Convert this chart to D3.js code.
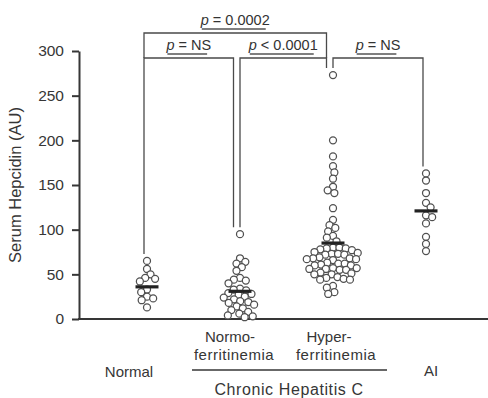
<!DOCTYPE html>
<html>
<head>
<meta charset="utf-8">
<script src="https://cdn.jsdelivr.net/npm/d3@7"></script>
<style>
  html, body { margin: 0; padding: 0; background: #fff; }
  svg { display: block; font-family: "Liberation Sans", Arial, Helvetica, sans-serif; }
</style>
</head>
<body>
<svg id="chart" width="488" height="398"></svg>
<script>
// Serum hepcidin by patient group
const groups = ["Normal", "Normo", "Hyper", "AI"];

const normalValues = [65, 56, 50, 46, 45, 42, 33, 30, 25, 23, 21, 13];
const normoValues = [95, 68, 64, 62, 58, 54, 46, 44, 43, 40, 34, 33, 32, 29, 28, 27, 25, 24,
  22, 20, 19, 18, 16, 14, 12, 10, 8, 6, 4, 3, 2];
const hyperValues = [273, 200, 182, 171, 164, 157, 148, 144, 141, 124, 111, 105, 102, 98, 93, 91, 87,
  80, 80, 79, 79, 78, 77,
  75, 74, 73, 73, 72, 72,
  69, 68, 68, 67, 67, 66,
  63, 62, 62, 61, 60, 60,
  57, 57, 56, 56, 55, 55,
  52, 51, 50, 50,
  47, 46, 45, 44, 44,
  37, 35,
  30, 28];
const aiValues = [163, 155, 141, 130, 125, 116, 114, 107, 92, 84, 76];

// horizontal summary bar for each group
const summaryValues = [36, 31, 85, 121];

const yTicks = [0, 50, 100, 150, 200, 250, 300];

// pairwise comparisons: group index from / to and the p-value text
const compareFrom = [0, 0, 1, 2];
const compareTo = [2, 1, 2, 3];
const compareText = [" = 0.0002", " = NS", " < 0.0001", " = NS"];

const svg = d3.select("#chart");
const ink = "#363636";

const y = d3.scaleLinear().domain([0, 300]).range([319, 51]);
const x = d3.scalePoint().domain(groups).range([147, 426]);

// y axis
const yAxis = svg.append("g")
  .attr("transform", "translate(79,0)")
  .call(d3.axisLeft(y).tickValues(yTicks).tickSize(7).tickPadding(8).tickSizeOuter(0));
yAxis.select(".domain").attr("stroke", ink).attr("stroke-width", 2);
yAxis.selectAll(".tick line").attr("stroke", ink).attr("stroke-width", 2);
yAxis.selectAll(".tick text").attr("fill", ink).attr("font-size", 15.5)
  .attr("font-family", "Liberation Sans, Arial, sans-serif");

// x baseline
svg.append("line")
  .attr("x1", 78).attr("x2", 488)
  .attr("y1", y(0)).attr("y2", y(0))
  .attr("stroke", ink).attr("stroke-width", 2);

svg.append("text")
  .attr("transform", `translate(21,${185}) rotate(-90)`)
  .attr("text-anchor", "middle")
  .attr("font-size", 16.5)
  .attr("fill", ink)
  .text("Serum Hepcidin (AU)");

// beeswarm placement: each dot takes the x offset closest to the centre that avoids overlap
const r = 3.5;
const gap = 6.4;
function swarm(values) {
  const placed = [];
  const sorted = values.slice().sort((a, b) => b - a);
  sorted.forEach((v, i) => {
    const py = y(v);
    const near = placed.filter(p => Math.abs(p.y - py) < gap);
    const cands = [0];
    near.forEach(p => {
      const dx = Math.sqrt(gap * gap - (p.y - py) * (p.y - py));
      cands.push(p.dx + dx + 0.01, p.dx - dx - 0.01);
    });
    const ok = cands.filter(c => near.every(p => Math.hypot(p.dx - c, p.y - py) >= gap - 0.02));
    ok.sort((a, b) => Math.abs(a) - Math.abs(b) || (i % 2 ? a - b : b - a));
    placed.push({ v, y: py, dx: ok[0] });
  });
  return placed;
}

const allValues = [normalValues, normoValues, hyperValues, aiValues];

allValues.forEach((vals, gi) => {
  const cx = x(groups[gi]);
  const dots = swarm(vals);
  svg.append("g").selectAll("circle")
    .data(dots)
    .join("circle")
    .attr("cx", d => cx + d.dx)
    .attr("cy", d => d.y)
    .attr("r", r)
    .attr("fill", "#fff")
    .attr("stroke", "#505050")
    .attr("stroke-width", 1.25);
  svg.append("line")
    .attr("x1", cx - 11.5).attr("x2", cx + 11.5)
    .attr("y1", y(summaryValues[gi])).attr("y2", y(summaryValues[gi]))
    .attr("stroke", "#222").attr("stroke-width", 3.2);
});

// significance brackets
const tierY = [58, 33];
const bracketG = svg.append("g").attr("fill", "none").attr("stroke", "#4a4a4a").attr("stroke-width", 1.3);
const legCount = groups.map(() => 0);
compareFrom.forEach((a, i) => {
  const b = compareTo[i];
  if (b - a === 1) { legCount[a]++; legCount[b]++; }
});
function legX(gi, side) {
  const cx = x(groups[gi]) - 3;
  if (legCount[gi] < 2) return cx;
  return side === "arrive" ? cx - 3.5 : cx + 3;
}
compareFrom.forEach((a, i) => {
  const b = compareTo[i];
  const tier = b - a > 1 ? 1 : 0;
  const by = tierY[tier];
  const xa = legX(a, "leave");
  const xb = legX(b, "arrive");
  let bottomA, bottomB;
  if (tier === 1) {
    bottomA = tierY[0];
    bottomB = tierY[0];
  } else {
    bottomA = y(d3.max(allValues[a])) - 7;
    bottomB = y(d3.max(allValues[b])) - 7;
  }
  bracketG.append("path")
    .attr("d", `M${xa},${bottomA}V${by}H${xb}V${bottomB}`);

  const label = svg.append("text")
    .attr("x", (xa + xb) / 2)
    .attr("y", by - 8)
    .attr("text-anchor", "middle")
    .attr("font-size", 14.5)
    .attr("fill", "#333");
  label.append("tspan").attr("font-style", "italic").text("p");
  label.append("tspan").text(compareText[i]);
  const w = label.node().getComputedTextLength();
  svg.append("line")
    .attr("x1", (xa + xb) / 2 - w / 2 + 1).attr("x2", (xa + xb) / 2 + w / 2 - 4)
    .attr("y1", by - 4).attr("y2", by - 4)
    .attr("stroke", "#555").attr("stroke-width", 1.6);
});

// category labels
const labelG = svg.append("g").attr("fill", ink).attr("font-size", 15).attr("text-anchor", "middle");
labelG.append("text").attr("x", x("Normal") - 18).attr("y", 377).text("Normal");
labelG.append("text").attr("x", x("Normo") - 10).attr("y", 342).text("Normo-");
labelG.append("text").attr("x", x("Normo") - 6).attr("y", 360).attr("letter-spacing", 0.5).text("ferritinemia");
labelG.append("text").attr("x", x("Hyper") - 4).attr("y", 342).text("Hyper-");
labelG.append("text").attr("x", x("Hyper") + 3).attr("y", 360).attr("letter-spacing", 0.5).text("ferritinemia");
labelG.append("text").attr("x", x("AI") + 5).attr("y", 376).text("AI");

svg.append("line")
  .attr("x1", 192).attr("x2", 387)
  .attr("y1", 370).attr("y2", 370)
  .attr("stroke", ink).attr("stroke-width", 1.5);
svg.append("text")
  .attr("x", 289).attr("y", 395)
  .attr("text-anchor", "middle")
  .attr("font-size", 16)
  .attr("letter-spacing", 0.6)
  .attr("fill", ink)
  .text("Chronic Hepatitis C");
</script>
</body>
</html>
